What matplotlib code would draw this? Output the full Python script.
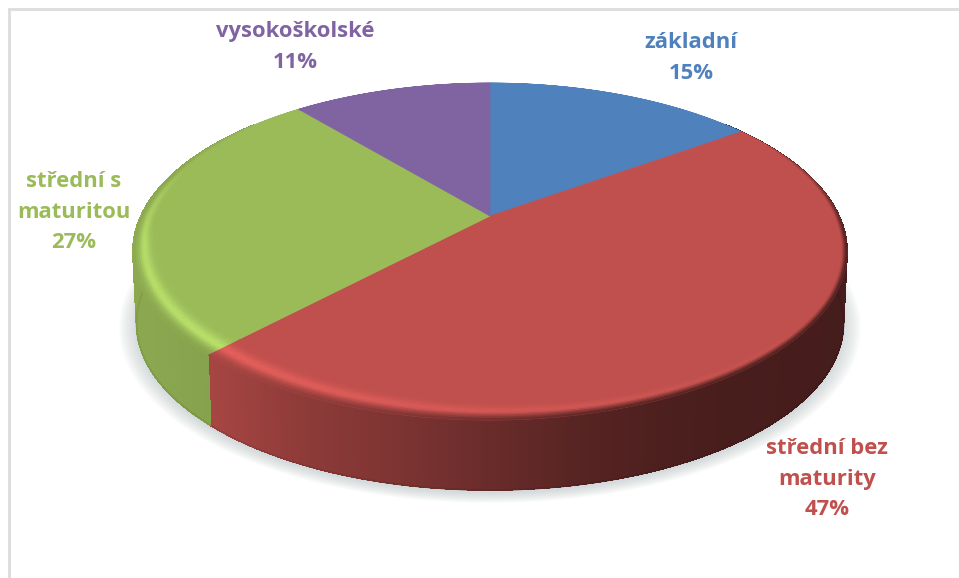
import numpy as np
import matplotlib.pyplot as plt
from matplotlib.collections import LineCollection, PolyCollection
from matplotlib.colors import to_rgb
from matplotlib.patches import Polygon, Rectangle

categories = ['základní', 'střední bez\nmaturity', 'střední s\nmaturitou', 'vysokoškolské']
shares = [15, 47, 27, 11]
colors = ['#4f81bd', '#c0504d', '#9bbb59', '#8064a2']
label_xy = [(691, 58), (827, 479), (74, 212), (295, 47)]

# perspective of the disc, in pixels
CX, CY = 490, 216
RX, RY, K = 349, 161, 0.2107
DEPTH, BASE_SCALE = 72, 0.99


def project(r, th, scale=1.0, dy=0.0):
    u, v = r * np.sin(th), r * np.cos(th)
    w = 1 + K * v
    return CX + RX * u / w * scale, CY - RY * v / w * scale + dy


def side_shade(x):
    t = (x - CX) / RX
    return np.interp(t, [-1, -0.78, -0.54, -0.26, 0, 0.3, 0.6, 1],
                     [0.90, 0.86, 0.74, 0.65, 0.55, 0.44, 0.38, 0.36])


def highlight(deg):
    return np.interp(deg, [0, 120, 150, 180, 225, 260, 290, 360],
                     [0, 0, 0.25, 0.55, 1, 0.9, 0, 0])


def rim_blend(deg):
    return np.interp(deg, [0, 60, 95, 285, 310, 360], [0, 0, 1, 1, 0, 0])


fig = plt.figure(figsize=(9.59, 5.78), dpi=100)
ax = fig.add_axes([0, 0, 1, 1])
ax.set_xlim(0, 959)
ax.set_ylim(578, 0)
ax.axis('off')

ax.add_patch(Rectangle((9, 9), 960, 580, fc='white', ec='#dcdcdc', lw=2))

# soft shadow below the disc
ring = np.radians(np.linspace(0, 360, 361))
for grow in np.linspace(1.05, 1.0, 14):
    sx, sy = project(1.0, ring, BASE_SCALE * grow, DEPTH + 3)
    ax.add_patch(Polygon(np.c_[sx, sy], fc='#9aa8ac', ec='none', alpha=0.03, zorder=1))

edges = np.cumsum([0] + shares) / sum(shares) * 360

# side wall, split in narrow strips so the shading runs along the rim
for i, col in enumerate(colors):
    base = np.array(to_rgb(col))
    deg = np.arange(edges[i], edges[i + 1] + 0.5, 0.5)
    deg = deg[(deg >= 50) & (deg <= 310)]
    if len(deg) < 2:
        continue
    th = np.radians(deg)
    x1, y1 = project(1.0, th)
    x2, y2 = project(1.0, th, BASE_SCALE, DEPTH)
    quads = [[(x1[j], y1[j]), (x1[j + 1], y1[j + 1]), (x2[j + 1], y2[j + 1]), (x2[j], y2[j])]
             for j in range(len(deg) - 1)]
    fc = [np.clip(base * side_shade(x1[j]), 0, 1) for j in range(len(deg) - 1)]
    ax.add_collection(PolyCollection(quads, facecolors=fc, edgecolors=fc, linewidths=0.6,
                                     antialiaseds=False, zorder=2))
    # antialiased lower edge, the strips above are left hard
    segs = [[(x2[j], y2[j]), (x2[j + 1], y2[j + 1])] for j in range(len(deg) - 1)]
    ax.add_collection(LineCollection(segs, colors=[c * 0.92 for c in fc], linewidths=1.2, zorder=2))

# top face with a bevelled rim
steps = np.linspace(0, 1, 13)
for i, col in enumerate(colors):
    base = np.array(to_rgb(col))
    deg = np.arange(edges[i], edges[i + 1] + 0.5, 0.5)
    if deg[-1] > edges[i + 1]:
        deg[-1] = edges[i + 1]
    th = np.radians(deg)
    x, y = project(1.0, th)
    ax.add_patch(Polygon(np.r_[[(CX, CY)], np.c_[x, y]], fc=col, ec=col, lw=0.5, zorder=3))

    quads, fc = [], []
    for j in range(len(deg) - 1):
        d = deg[j]
        hl, g = highlight(d), rim_blend(d)
        width = 0.012 + hl * (0.025 + 0.05 * abs(np.cos(th[j]))) + 0.022 * g
        xm, _ = project(1.0, th[j])
        side = base * side_shade(xm)
        for a, b in zip(steps[:-1], steps[1:]):
            mid = (a + b) / 2
            bump = np.exp(-((mid - 0.55) / 0.25) ** 2)
            c = np.clip(base * (1 + 0.2 * hl * bump), 0, 1)
            fade = np.clip((mid - 0.6) / 0.4, 0, 1) * g
            c = c * (1 - fade) + side * fade
            r0, r1 = 1 - width * (1 - a), 1 - width * (1 - b)
            p0 = project(r0, th[j])
            p1 = project(r1, th[j])
            p2 = project(r1, th[j + 1])
            p3 = project(r0, th[j + 1])
            quads.append([p0, p1, p2, p3])
            fc.append(c)
    ax.add_collection(PolyCollection(quads, facecolors=fc, edgecolors=fc, linewidths=0.4, zorder=4))

for name, share, col, (lx, ly) in zip(categories, shares, colors, label_xy):
    ax.text(lx, ly, f'{name}\n{share}%', color=col, ha='center', va='center',
            family='Open Sans', fontweight='bold', fontsize=15.8, linespacing=1.59, zorder=5)

fig.savefig('out.png', dpi=100)
